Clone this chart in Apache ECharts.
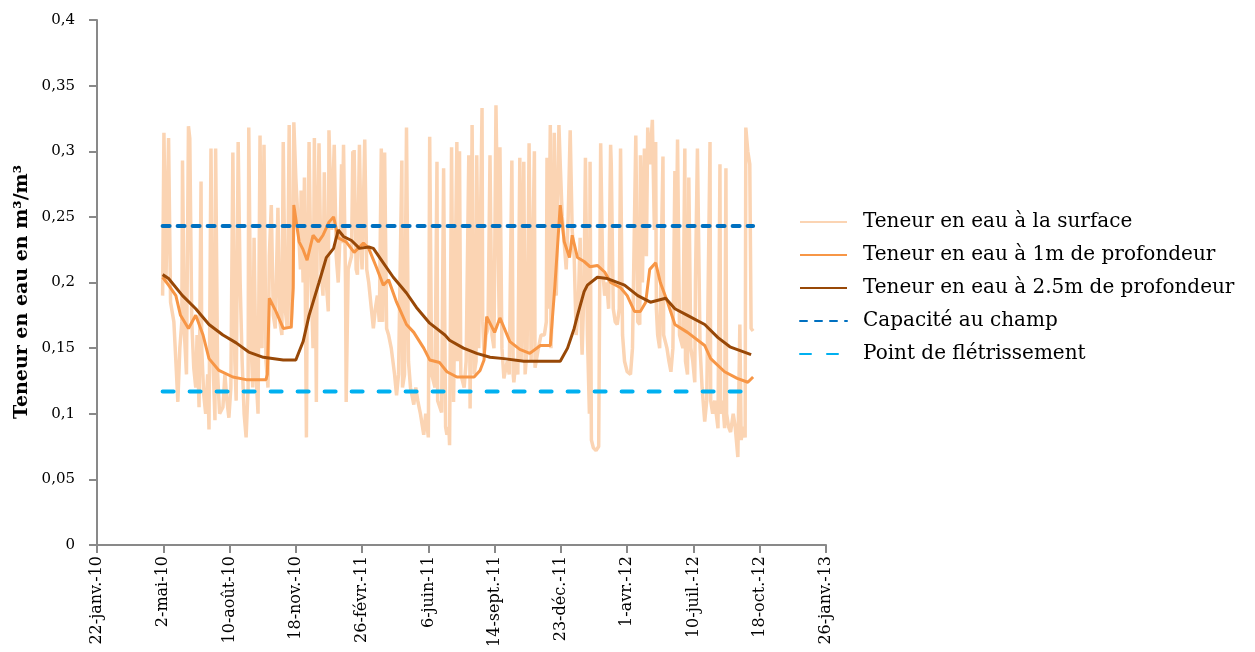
<!DOCTYPE html>
<html lang="fr">
<head>
<meta charset="utf-8">
<title>Teneur en eau du sol</title>
<script src="https://cdn.jsdelivr.net/npm/echarts@6/dist/echarts.min.js"></script>
<style>
  html, body { margin: 0; padding: 0; background: #ffffff; }
  #chart { width: 1255px; height: 652px; }
</style>
</head>
<body>
<div id="chart"></div>
<script>
// Axis ticks: one every 100 days, starting 22 janvier 2010
const xTickLabels = ['22-janv.-10', '2-mai-10', '10-août-10', '18-nov.-10', '26-févr.-11', '6-juin-11',
  '14-sept.-11', '23-déc.-11', '1-avr.-12', '10-juil.-12', '18-oct.-12', '26-janv.-13'];

// Measurements begin on 1 mai 2010 (day 99 after 22-janv.-10); below, [days since 1 mai 2010, m³/m³]
const firstMeasureDay = 99;
const lastMeasureOffset = 891;

const surface = [
  [0,0.19],[2,0.314],[5,0.20],[9,0.310],[12,0.185],[17,0.17],[20,0.14],[23,0.109],[26,0.15],[29,0.17],
  [30,0.293],[33,0.16],[36,0.13],[39,0.319],[41,0.31],[44,0.17],[47,0.135],[50,0.12],[52,0.16],[55,0.105],
  [58,0.277],[59,0.15],[62,0.115],[65,0.10],[68,0.13],[70,0.088],[73,0.302],[76,0.14],[79,0.095],[80,0.302],
  [83,0.13],[86,0.10],[91,0.105],[94,0.13],[97,0.11],[100,0.097],[103,0.12],[106,0.299],[109,0.14],[111,0.110],
  [114,0.307],[117,0.20],[120,0.14],[123,0.10],[126,0.082],[129,0.12],[130,0.318],[133,0.16],[136,0.12],[138,0.234],
  [141,0.13],[144,0.10],[147,0.312],[150,0.15],[153,0.305],[156,0.14],[159,0.12],[161,0.22],[164,0.259],[167,0.175],
  [170,0.165],[174,0.257],[177,0.17],[180,0.16],[182,0.307],[185,0.18],[188,0.165],[191,0.320],[194,0.165],[197,0.20],
  [198,0.322],[201,0.28],[205,0.24],[208,0.21],[209,0.27],[212,0.20],[214,0.28],[217,0.082],[218,0.18],[221,0.307],
  [224,0.20],[227,0.15],[229,0.310],[232,0.109],[233,0.22],[236,0.306],[239,0.21],[242,0.19],[244,0.284],[247,0.20],
  [250,0.178],[251,0.316],[255,0.24],[259,0.305],[262,0.22],[265,0.20],[268,0.24],[270,0.29],[271,0.23],[273,0.305],
  [276,0.20],[277,0.109],[280,0.21],[285,0.22],[287,0.30],[288,0.24],[289,0.301],[292,0.21],[294,0.206],[297,0.305],
  [300,0.22],[301,0.21],[305,0.309],[308,0.21],[311,0.20],[315,0.18],[318,0.165],[321,0.18],[324,0.19],[327,0.17],
  [330,0.302],[332,0.17],[335,0.299],[338,0.165],[341,0.16],[345,0.15],[350,0.13],[353,0.114],[356,0.13],[361,0.293],
  [362,0.12],[365,0.13],[368,0.318],[371,0.14],[374,0.12],[379,0.107],[382,0.12],[385,0.11],[389,0.10],[394,0.084],
  [397,0.10],[401,0.082],[403,0.311],[406,0.13],[411,0.12],[414,0.292],[415,0.11],[421,0.101],[424,0.287],[427,0.09],
  [429,0.084],[432,0.09],[433,0.076],[436,0.303],[439,0.109],[444,0.307],[445,0.14],[448,0.30],[450,0.13],[455,0.120],
  [458,0.14],[462,0.297],[464,0.104],[467,0.320],[470,0.13],[473,0.14],[474,0.297],[477,0.15],[482,0.333],[483,0.17],
  [485,0.145],[488,0.16],[491,0.165],[494,0.297],[497,0.16],[500,0.15],[503,0.335],[504,0.30],[508,0.17],[509,0.303],
  [512,0.15],[515,0.127],[520,0.14],[523,0.13],[527,0.293],[529,0.13],[530,0.124],[533,0.14],[536,0.13],[539,0.295],
  [541,0.14],[545,0.292],[547,0.13],[550,0.15],[553,0.306],[556,0.14],[561,0.300],[562,0.135],[567,0.15],[571,0.16],
  [576,0.160],[579,0.17],[580,0.295],[582,0.18],[585,0.320],[586,0.15],[588,0.18],[591,0.314],[594,0.19],[598,0.320],
  [600,0.29],[603,0.25],[606,0.23],[609,0.21],[611,0.211],[612,0.25],[615,0.316],[618,0.24],[621,0.22],[624,0.16],
  [627,0.18],[630,0.234],[632,0.16],[633,0.145],[636,0.2],[638,0.295],[641,0.16],[644,0.10],[645,0.292],[647,0.08],
  [650,0.074],[654,0.072],[658,0.075],[661,0.306],[664,0.21],[667,0.19],[670,0.20],[673,0.18],[676,0.305],[677,0.29],
  [680,0.18],[683,0.17],[686,0.168],[689,0.18],[691,0.302],[694,0.16],[697,0.14],[701,0.132],[706,0.130],[709,0.15],
  [714,0.312],[717,0.17],[720,0.168],[721,0.297],[724,0.20],[727,0.302],[730,0.22],[732,0.318],[735,0.29],[739,0.324],
  [742,0.24],[744,0.307],[745,0.18],[747,0.160],[750,0.15],[755,0.296],[756,0.16],[761,0.15],[764,0.14],[767,0.132],
  [770,0.15],[773,0.285],[774,0.18],[777,0.309],[780,0.16],[785,0.15],[788,0.302],[789,0.14],[792,0.130],[794,0.28],
  [797,0.15],[800,0.14],[803,0.124],[804,0.2],[807,0.302],[811,0.15],[814,0.12],[818,0.094],[821,0.11],[826,0.307],
  [827,0.11],[830,0.10],[833,0.11],[838,0.089],[841,0.290],[842,0.10],[845,0.11],[848,0.089],[850,0.287],[851,0.10],
  [854,0.09],[857,0.086],[861,0.10],[864,0.09],[868,0.067],[871,0.168],[873,0.08],[876,0.09],[879,0.082],[880,0.318],
  [883,0.30],[886,0.29],[888,0.165],[891,0.163]
];

const depth1m = [
  [0,0.204],[9,0.198],[20,0.190],[27,0.175],[39,0.165],[50,0.175],[61,0.160],[70,0.142],[85,0.133],[106,0.128],
  [126,0.126],[156,0.126],[158,0.13],[161,0.188],[171,0.178],[182,0.165],[194,0.166],[197,0.196],[198,0.259],[206,0.231],
  [212,0.225],[218,0.217],[227,0.236],[235,0.231],[242,0.236],[251,0.246],[258,0.250],[265,0.234],[277,0.231],[289,0.223],
  [303,0.230],[311,0.226],[323,0.211],[333,0.198],[341,0.202],[353,0.185],[368,0.168],[379,0.162],[394,0.150],[403,0.141],
  [418,0.139],[429,0.132],[444,0.128],[470,0.128],[479,0.133],[485,0.141],[489,0.174],[501,0.162],[509,0.173],[524,0.155],
  [539,0.149],[554,0.146],[570,0.152],[585,0.152],[592,0.198],[600,0.259],[606,0.231],[614,0.219],[618,0.236],[626,0.219],
  [636,0.216],[645,0.212],[656,0.213],[667,0.208],[676,0.200],[691,0.196],[701,0.190],[712,0.178],[721,0.178],[729,0.185],
  [735,0.210],[744,0.215],[751,0.200],[762,0.185],[773,0.168],[792,0.162],[818,0.152],[827,0.142],[848,0.132],[867,0.127],
  [883,0.124],[891,0.128]
];

const depth25m = [
  [0,0.206],[9,0.203],[30,0.190],[50,0.180],[70,0.168],[91,0.160],[111,0.154],[130,0.147],[152,0.143],[182,0.141],
  [201,0.141],[212,0.155],[221,0.175],[236,0.200],[247,0.219],[258,0.226],[265,0.240],[273,0.235],[285,0.232],[297,0.226],
  [311,0.227],[318,0.226],[333,0.215],[348,0.204],[368,0.192],[383,0.181],[403,0.169],[426,0.160],[433,0.156],[454,0.150],
  [474,0.146],[494,0.143],[515,0.142],[545,0.140],[600,0.140],[611,0.150],[621,0.165],[626,0.175],[636,0.193],[641,0.198],
  [656,0.204],[671,0.203],[697,0.198],[717,0.190],[736,0.185],[759,0.188],[773,0.180],[792,0.175],[818,0.168],[838,0.158],
  [856,0.151],[888,0.145]
];

// Reference moisture levels (m³/m³)
const capaciteAuChamp = 0.243;
const pointFletrissement = 0.117;

const toAxis = pts => pts.map(p => [firstMeasureDay + p[0], p[1]]);
const flatLine = v => [[firstMeasureDay, v], [firstMeasureDay + lastMeasureOffset, v]];

const FONT = 'DejaVu Serif';
const AXIS_GREY = '#898989';

const chart = echarts.init(document.getElementById('chart'), null, { renderer: 'canvas' });
chart.setOption({
  animation: false,
  backgroundColor: '#ffffff',
  grid: { left: 97, right: 429, top: 20, bottom: 107, containLabel: false },
  graphic: [{
    type: 'text',
    x: 22,
    y: 292,
    rotation: Math.PI / 2,
    style: {
      text: 'Teneur en eau en m³/m³',
      fontFamily: FONT,
      fontSize: 19,
      fontWeight: 'bold',
      fill: '#000',
      align: 'center',
      verticalAlign: 'middle'
    }
  }],
  legend: {
    orient: 'vertical',
    left: 794,
    top: 207,
    itemWidth: 47,
    itemHeight: 14,
    itemGap: 13,
    itemStyle: { opacity: 0 },
    textStyle: { fontFamily: FONT, fontSize: 20, color: '#000', lineHeight: 20, padding: [0, 0, 0, 11] },
    data: ['Teneur en eau à la surface', 'Teneur en eau à 1m de profondeur',
      'Teneur en eau à 2.5m de profondeur', 'Capacité au champ', 'Point de flétrissement']
  },
  xAxis: {
    type: 'value',
    min: 0,
    max: 1100,
    interval: 100,
    splitLine: { show: false },
    axisLine: { show: true, lineStyle: { color: AXIS_GREY, width: 2 } },
    axisTick: { show: true, inside: false, length: 8, lineStyle: { color: AXIS_GREY, width: 2 } },
    axisLabel: {
      rotate: 90,
      margin: 11,
      fontFamily: FONT,
      fontSize: 16,
      color: '#000',
      formatter: v => xTickLabels[Math.round(v / 100)] || ''
    }
  },
  yAxis: {
    type: 'value',
    min: 0,
    max: 0.4,
    interval: 0.05,
    splitLine: { show: false },
    axisLine: { show: true, lineStyle: { color: AXIS_GREY, width: 2 } },
    axisTick: { show: true, inside: false, length: 8, lineStyle: { color: AXIS_GREY, width: 2 } },
    axisLabel: {
      margin: 22,
      fontFamily: FONT,
      fontSize: 15,
      color: '#000',
      formatter: v => String(+v.toFixed(2)).replace('.', ',')
    }
  },
  series: [
    {
      name: 'Teneur en eau à la surface',
      type: 'line',
      data: toAxis(surface),
      symbol: 'none',
      lineStyle: { color: '#FBD4B3', width: 3.5 },
      itemStyle: { color: '#FBD4B3' },
      z: 1
    },
    {
      name: 'Teneur en eau à 1m de profondeur',
      type: 'line',
      data: toAxis(depth1m),
      symbol: 'none',
      lineStyle: { color: '#F79646', width: 3 },
      itemStyle: { color: '#F79646' },
      z: 2
    },
    {
      name: 'Teneur en eau à 2.5m de profondeur',
      type: 'line',
      data: toAxis(depth25m),
      symbol: 'none',
      lineStyle: { color: '#984807', width: 3 },
      itemStyle: { color: '#984807' },
      z: 3
    },
    {
      name: 'Capacité au champ',
      type: 'line',
      data: flatLine(capaciteAuChamp),
      symbol: 'none',
      lineStyle: { color: '#0070C0', width: 4, type: [7, 8], cap: 'round' },
      itemStyle: { color: '#0070C0' },
      z: 4
    },
    {
      name: 'Point de flétrissement',
      type: 'line',
      data: flatLine(pointFletrissement),
      symbol: 'none',
      lineStyle: { color: '#00B0F0', width: 4, type: [11, 16], cap: 'round' },
      itemStyle: { color: '#00B0F0' },
      z: 4
    }
  ]
});
</script>
</body>
</html>
